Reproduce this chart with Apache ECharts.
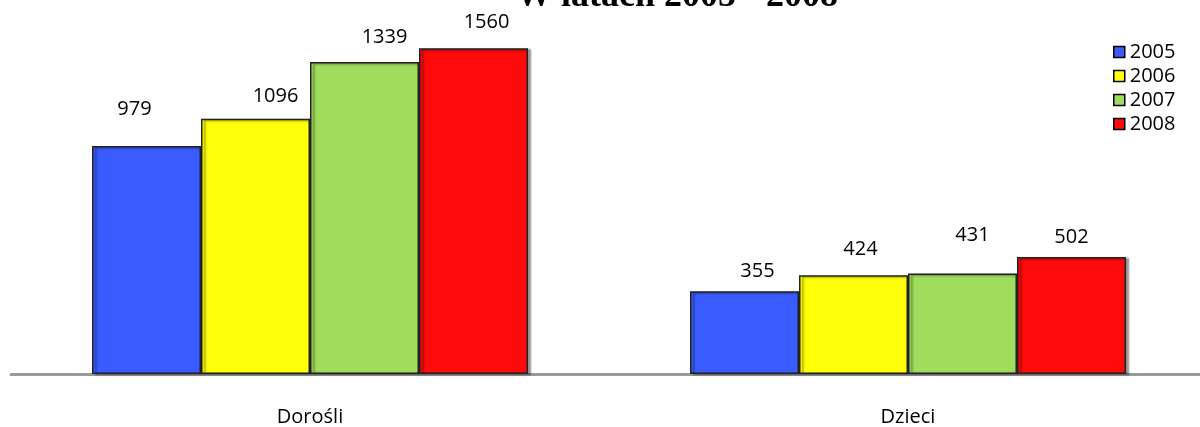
<!doctype html>
<html>
    <head>
        <meta charset="UTF-8">
        <title>W latach 2005 - 2008</title>
        <style>
            html, body { margin: 0; padding: 0; background: #fff; }
        </style>
    </head>
    <body>
        <!-- 为 ECharts 准备一个具备大小（宽高）的 DOM -->
        <div id="main" style="width: 1200px;height:427px;"></div>
        <script src="https://cdn.jsdelivr.net/npm/echarts@6/dist/echarts.min.js"></script>
        <script type="text/javascript">
            // dane z wykresu
            var kategorie = ['Dorośli', 'Dzieci'];
            var lata = ['2005', '2006', '2007', '2008'];
            var r2005 = [979, 355];
            var r2006 = [1096, 424];
            var r2007 = [1339, 431];
            var r2008 = [1560, 502];
            var kolory = ['#3a5cff', '#ffff0a', '#a0dd5c', '#ff0b0b'];
            // przesuniecia etykiet [dx, dy] jak w oryginale
            var przesuniecia = [
                [[-12, -27], [13, -10]],
                [[20, -12], [7, -16]],
                [[20, -15], [10, -28]],
                [[13, -16], [0, -10]]
            ];

            var myChart = echarts.init(document.getElementById('main'));

            var wartosci = [r2005, r2006, r2007, r2008];
            var series = [];
            for (var i = 0; i < lata.length; i++) {
                var dane = [];
                for (var j = 0; j < kategorie.length; j++) {
                    dane.push({
                        value: wartosci[i][j],
                        label: { offset: przesuniecia[i][j] }
                    });
                }
                series.push({
                    name: lata[i],
                    type: 'bar',
                    barWidth: 109,
                    barGap: '0%',
                    clip: true,
                    itemStyle: {
                        color: kolory[i],
                        borderColor: '#222',
                        borderWidth: 1.5,
                        shadowColor: 'rgba(0,0,0,0.4)',
                        shadowOffsetX: 3,
                        shadowOffsetY: 1,
                        shadowBlur: 2
                    },
                    label: {
                        show: true,
                        position: 'top',
                        distance: 0,
                        color: '#000',
                        fontFamily: 'Open Sans',
                        fontSize: 20
                    },
                    data: dane
                });
            }

            var option = {
                animation: false,
                graphic: [{
                    type: 'text',
                    x: 677,
                    y: -3,
                    style: {
                        text: 'W latach 2005 - 2008',
                        x: 0,
                        y: 0,
                        textAlign: 'center',
                        textVerticalAlign: 'middle',
                        font: 'bold 36px "Liberation Serif"',
                        fill: '#000'
                    }
                }],
                legend: {
                    data: lata,
                    orient: 'vertical',
                    left: 1113,
                    top: 42,
                    padding: 0,
                    icon: 'rect',
                    itemWidth: 11,
                    itemHeight: 11,
                    itemGap: 4,
                    itemTextGap: 5,
                    itemStyle: {
                        borderColor: '#000',
                        borderWidth: 1.5,
                        shadowBlur: 0,
                        shadowOffsetX: 0,
                        shadowOffsetY: 0
                    },
                    textStyle: {
                        fontFamily: 'Open Sans',
                        fontSize: 20,
                        color: '#000'
                    }
                },
                grid: {
                    left: 11,
                    top: 49,
                    width: 1196,
                    height: 325,
                    outerBoundsMode: 'none'
                },
                xAxis: {
                    type: 'category',
                    data: kategorie,
                    axisTick: { show: false },
                    axisLine: { lineStyle: { color: '#999', width: 3 } },
                    axisLabel: {
                        margin: 33,
                        color: '#000',
                        fontFamily: 'Open Sans',
                        fontSize: 20
                    }
                },
                yAxis: {
                    type: 'value',
                    min: 0,
                    max: 1395,
                    show: false,
                    splitLine: { show: false }
                },
                series: series
            };
            myChart.setOption(option);
        </script>
    </body>
</html>
